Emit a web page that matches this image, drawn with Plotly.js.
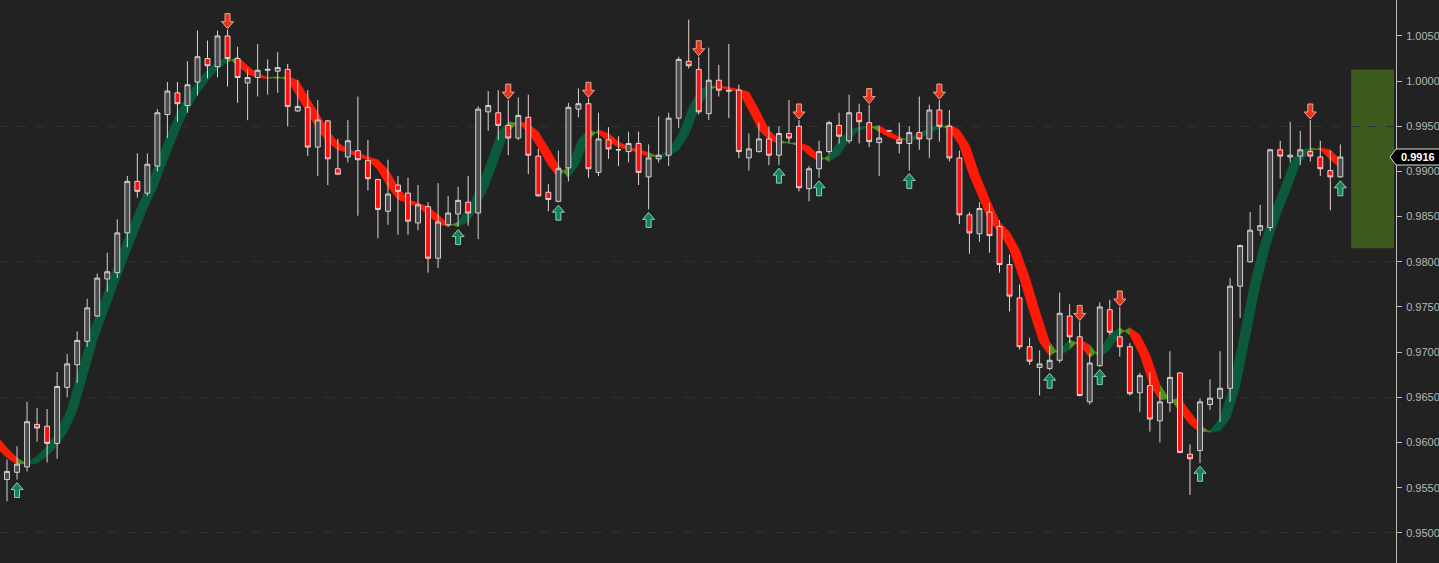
<!DOCTYPE html>
<html><head><meta charset="utf-8">
<script src="https://cdn.plot.ly/plotly-3.0.1.min.js"></script>
<style>html,body{margin:0;padding:0;background:#222222;overflow:hidden}#chart{width:1439px;height:563px}</style>
</head><body><div id="chart"></div>
<script>
// ---- data (bar index of first candle = -1) ----
const firstBar = -1;
const openPrices = [0.9562,0.9559,0.9567,0.9573,0.9620,0.9618,0.9599,0.9661,0.9686,0.9712,0.9740,0.9781,0.9788,0.9832,0.9889,0.9876,0.9906,0.9963,0.9987,0.9973,0.9999,1.0025,1.0016,1.0050,1.0025,0.9998,1.0004,1.0012,1.0011,1.0013,0.9967,0.9971,0.9927,0.9956,0.9903,0.9916,0.9923,0.9912,0.9891,0.9856,0.9885,0.9876,0.9843,0.9861,0.9804,0.9841,0.9853,0.9866,0.9854,0.9966,0.9965,0.9951,0.9937,0.9960,0.9917,0.9877,0.9867,0.9904,0.9969,0.9975,0.9899,0.9935,0.9924,0.9922,0.9931,0.9894,0.9914,0.9918,0.9959,1.0022,1.0013,0.9964,1.0001,0.9990,0.9990,0.9915,0.9922,0.9936,0.9918,0.9942,0.9950,0.9881,0.9903,0.9922,0.9951,0.9934,0.9965,0.9954,0.9932,0.9945,0.9935,0.9931,0.9943,0.9936,0.9968,0.9950,0.9915,0.9852,0.9831,0.9855,0.9839,0.9797,0.9760,0.9706,0.9683,0.9682,0.9691,0.9740,0.9717,0.9645,0.9685,0.9747,0.9717,0.9706,0.9655,0.9663,0.9624,0.9644,0.9677,0.9587,0.9591,0.9642,0.9649,0.9660,0.9773,0.9800,0.9835,0.9838,0.9924,0.9916,0.9917,0.9922,0.9916,0.9901,0.9894];
const highPrices = [0.9590,0.9581,0.9596,0.9645,0.9638,0.9637,0.9678,0.9698,0.9723,0.9759,0.9787,0.9810,0.9847,0.9895,0.9920,0.9920,0.9969,0.9999,0.9999,1.0022,1.0056,1.0045,1.0056,1.0057,1.0038,1.0014,1.0041,1.0024,1.0032,1.0019,1.0001,0.9990,0.9979,0.9957,0.9936,0.9957,0.9983,0.9935,0.9892,0.9913,0.9895,0.9893,0.9885,0.9866,0.9887,0.9873,0.9883,0.9895,0.9972,0.9989,0.9990,0.9979,0.9982,0.9985,0.9925,0.9886,0.9923,0.9976,0.9992,0.9981,0.9965,0.9949,0.9939,0.9944,0.9944,0.9930,0.9961,0.9965,1.0027,1.0068,1.0027,1.0037,1.0018,1.0041,0.9996,0.9942,0.9954,0.9950,0.9950,0.9979,0.9957,0.9906,0.9934,0.9956,0.9965,0.9985,0.9975,0.9974,0.9950,0.9946,0.9954,0.9950,0.9983,0.9974,0.9979,0.9968,0.9923,0.9855,0.9866,0.9865,0.9846,0.9808,0.9775,0.9716,0.9702,0.9707,0.9766,0.9753,0.9734,0.9699,0.9755,0.9758,0.9750,0.9710,0.9677,0.9678,0.9656,0.9701,0.9678,0.9598,0.9649,0.9670,0.9701,0.9782,0.9819,0.9855,0.9863,0.9925,0.9934,0.9955,0.9945,0.9957,0.9934,0.9923,0.9930];
const lowPrices = [0.9555,0.9535,0.9559,0.9568,0.9601,0.9578,0.9582,0.9650,0.9666,0.9706,0.9739,0.9767,0.9782,0.9816,0.9871,0.9873,0.9900,0.9937,0.9955,0.9965,0.9984,1.0003,1.0004,0.9994,0.9976,0.9957,0.9983,0.9985,0.9987,0.9950,0.9966,0.9917,0.9895,0.9885,0.9896,0.9910,0.9851,0.9879,0.9826,0.9841,0.9830,0.9830,0.9835,0.9788,0.9793,0.9839,0.9839,0.9840,0.9825,0.9945,0.9935,0.9918,0.9935,0.9897,0.9872,0.9856,0.9866,0.9889,0.9960,0.9893,0.9895,0.9914,0.9906,0.9910,0.9885,0.9858,0.9910,0.9906,0.9948,1.0014,0.9963,0.9957,0.9983,0.9959,0.9915,0.9901,0.9921,0.9907,0.9907,0.9932,0.9878,0.9867,0.9893,0.9919,0.9931,0.9931,0.9931,0.9927,0.9895,0.9944,0.9920,0.9901,0.9924,0.9915,0.9933,0.9911,0.9842,0.9809,0.9822,0.9810,0.9788,0.9745,0.9703,0.9686,0.9652,0.9680,0.9688,0.9710,0.9651,0.9642,0.9684,0.9719,0.9695,0.9652,0.9634,0.9612,0.9600,0.9634,0.9588,0.9542,0.9577,0.9636,0.9623,0.9645,0.9738,0.9799,0.9829,0.9834,0.9892,0.9910,0.9907,0.9911,0.9895,0.9857,0.9893];
const closePrices = [0.9584,0.9568,0.9576,0.9623,0.9616,0.9599,0.9662,0.9687,0.9713,0.9749,0.9782,0.9789,0.9832,0.9889,0.9878,0.9908,0.9965,0.9989,0.9975,0.9996,1.0027,1.0017,1.0050,1.0025,1.0004,1.0004,1.0012,1.0013,1.0015,0.9972,0.9972,0.9927,0.9957,0.9914,0.9897,0.9934,0.9913,0.9892,0.9858,0.9875,0.9878,0.9845,0.9863,0.9804,0.9844,0.9854,0.9868,0.9854,0.9969,0.9973,0.9951,0.9937,0.9962,0.9918,0.9873,0.9869,0.9903,0.9971,0.9975,0.9903,0.9936,0.9925,0.9924,0.9931,0.9899,0.9915,0.9918,0.9959,1.0024,1.0017,0.9966,1.0001,0.9990,0.9989,0.9922,0.9925,0.9936,0.9918,0.9942,0.9937,0.9882,0.9903,0.9922,0.9954,0.9939,0.9965,0.9955,0.9933,0.9937,0.9945,0.9931,0.9943,0.9936,0.9968,0.9950,0.9915,0.9852,0.9832,0.9859,0.9829,0.9797,0.9762,0.9706,0.9690,0.9687,0.9691,0.9743,0.9717,0.9652,0.9688,0.9750,0.9722,0.9706,0.9654,0.9674,0.9626,0.9645,0.9672,0.9589,0.9582,0.9645,0.9649,0.9660,0.9773,0.9818,0.9835,0.9840,0.9924,0.9917,0.9918,0.9924,0.9917,0.9903,0.9894,0.9916];
// trend ribbon line (bar index of first value = -2)
const trendFirstBar = -2;
const trendLine = [0.9607,0.9594,0.9583,0.9576,0.9577,0.9585,0.9596,0.9612,0.9636,0.9675,0.9714,0.9745,0.9775,0.9804,0.9833,0.9860,0.9884,0.9913,0.9941,0.9966,0.9985,1.0000,1.0013,1.0021,1.0027,1.0017,1.0008,1.0004,1.0003,1.0005,1.0001,0.9983,0.9965,0.9946,0.9932,0.9924,0.9921,0.9916,0.9913,0.9902,0.9883,0.9869,0.9865,0.9861,0.9852,0.9842,0.9839,0.9844,0.9861,0.9883,0.9913,0.9944,0.9955,0.9953,0.9944,0.9926,0.9907,0.9893,0.9907,0.9935,0.9946,0.9942,0.9933,0.9927,0.9924,0.9921,0.9916,0.9917,0.9924,0.9941,0.9970,0.9990,0.9995,0.9993,0.9991,0.9988,0.9968,0.9946,0.9935,0.9931,0.9932,0.9928,0.9918,0.9911,0.9918,0.9935,0.9946,0.9949,0.9951,0.9944,0.9938,0.9934,0.9937,0.9942,0.9948,0.9952,0.9946,0.9929,0.9896,0.9869,0.9844,0.9833,0.9813,0.9782,0.9745,0.9711,0.9696,0.9703,0.9714,0.9708,0.9694,0.9703,0.9720,0.9727,0.9719,0.9697,0.9664,0.9647,0.9649,0.9634,0.9620,0.9611,0.9613,0.9627,0.9664,0.9719,0.9775,0.9819,0.9852,0.9880,0.9910,0.9923,0.9926,0.9924,0.9913,0.9904];
const sellSignalBars = [22,50,58,69,79,86,93,107,111,130];
const buySignalBars = [1,45,55,64,77,81,90,104,109,119,133];
const zoneHigh = 1.0013;
const zoneLow = 0.9815;

// ---- build ----
const bars = openPrices.map((_, k) => firstBar + k);
const trendBars = trendLine.map((_, k) => trendFirstBar + k);
const polys = {up:{x:[],y:[]}, down:{x:[],y:[]}, flip:{x:[],y:[]}};
const runs = [];
for (let k = 2; k < trendLine.length; k++) {
  const s1 = trendLine[k-1] - trendLine[k-2], s2 = trendLine[k] - trendLine[k-1];
  const key = (s1 > 0 && s2 > 0) ? 'up' : (s1 < 0 && s2 < 0) ? 'down' : 'flip';
  const last = runs[runs.length-1];
  if (last && last.key === key && last.end === k-1) last.end = k;
  else runs.push({key, start:k, end:k});
}
runs.forEach(r => {
  const P = polys[r.key];
  for (let k = r.start-1; k <= r.end; k++) { P.x.push(trendBars[k]); P.y.push(trendLine[k]); }
  for (let k = r.end; k >= r.start-1; k--) { P.x.push(trendBars[k]); P.y.push(trendLine[k-1]); }
  P.x.push(null); P.y.push(null);
});
const ribbonColors = {up:'#0a5a3b', down:'#ff1a08', flip:'#55901f'};
const traces = ['up','down','flip'].map(key => ({
  type:'scatter', mode:'lines', x:polys[key].x, y:polys[key].y, fill:'toself',
  fillcolor:ribbonColors[key], line:{color:ribbonColors[key], width:0.6},
  hoverinfo:'skip', xaxis:'x', yaxis:'y'
}));
traces.push({
  type:'candlestick', x:bars, open:openPrices, high:highPrices, low:lowPrices, close:closePrices,
  xaxis:'x', yaxis:'y2', hoverinfo:'skip', whiskerwidth:0,
  increasing:{line:{color:'#d2d2d2', width:1}, fillcolor:'#4c4c50'},
  decreasing:{line:{color:'#ecd2cf', width:1}, fillcolor:'#fb1010'}
});

const shapes = [];
shapes.push({type:'rect', xref:'paper', yref:'y2', x0:0.9678, x1:0.9986, y0:zoneLow, y1:zoneHigh,
  fillcolor:'#3c5a1e', line:{width:0}, layer:'below'});
sellSignalBars.forEach(b => shapes.push({type:'path', xref:'x', yref:'y2', xsizemode:'pixel', ysizemode:'pixel',
  xanchor:b, yanchor:highPrices[b-firstBar],
  path:'M0,1 L-6,8 L-2.5,8 L-2.5,16 L2.5,16 L2.5,8 L6,8 Z', fillcolor:'#e8351f', line:{color:'#f0a590', width:1}}));
buySignalBars.forEach(b => shapes.push({type:'path', xref:'x', yref:'y2', xsizemode:'pixel', ysizemode:'pixel',
  xanchor:b, yanchor:lowPrices[b-firstBar],
  path:'M0,-3 L-6,-10 L-2.5,-10 L-2.5,-18 L2.5,-18 L2.5,-10 L6,-10 Z', fillcolor:'#14835a', line:{color:'#8fcfb2', width:1}}));
const lastClose = closePrices[closePrices.length-1];
shapes.push({type:'path', xref:'paper', yref:'y2', xsizemode:'pixel', ysizemode:'pixel', xanchor:1, yanchor:lastClose,
  path:'M-6,0 L0,-8 L60,-8 L60,8 L0,8 Z', fillcolor:'#000000', line:{color:'#dcdcdc', width:1}});

const yRange = [0.94666, 1.00898];
const layout = {
  width:1439, height:563,
  margin:{l:0, r:43, t:0, b:0, pad:0},
  paper_bgcolor:'#222222', plot_bgcolor:'#222222',
  showlegend:false, dragmode:false,
  xaxis:{range:[-0.698, 138.55], visible:false, rangeslider:{visible:false}, fixedrange:true},
  yaxis:{range:yRange, tick0:0.95, dtick:0.015, showgrid:true, gridcolor:'#303030', griddash:'dash', gridwidth:1,
    showticklabels:false, ticks:'', zeroline:false, showline:false, fixedrange:true},
  yaxis2:{overlaying:'y', side:'right', anchor:'x', range:yRange, tick0:0.95, dtick:0.005, tickformat:'.4f',
    ticks:'outside', ticklen:5, tickcolor:'#bdbdbd', showline:true, linecolor:'#bdbdbd', linewidth:1,
    showgrid:false, zeroline:false, fixedrange:true, ticklabelstandoff:2,
    tickfont:{family:'"Liberation Sans", Arial, sans-serif', size:11, color:'#b8b8b8'}},
  shapes:shapes,
  annotations:[{xref:'paper', yref:'y2', x:1, y:lastClose, xanchor:'left', yanchor:'middle', xshift:3,
    showarrow:false, text:'<b>' + lastClose.toFixed(4) + '</b>',
    font:{family:'"Liberation Sans", Arial, sans-serif', size:11, color:'#ffffff'}}]
};
Plotly.newPlot('chart', traces, layout, {staticPlot:true, displayModeBar:false});
</script>
</body></html>
